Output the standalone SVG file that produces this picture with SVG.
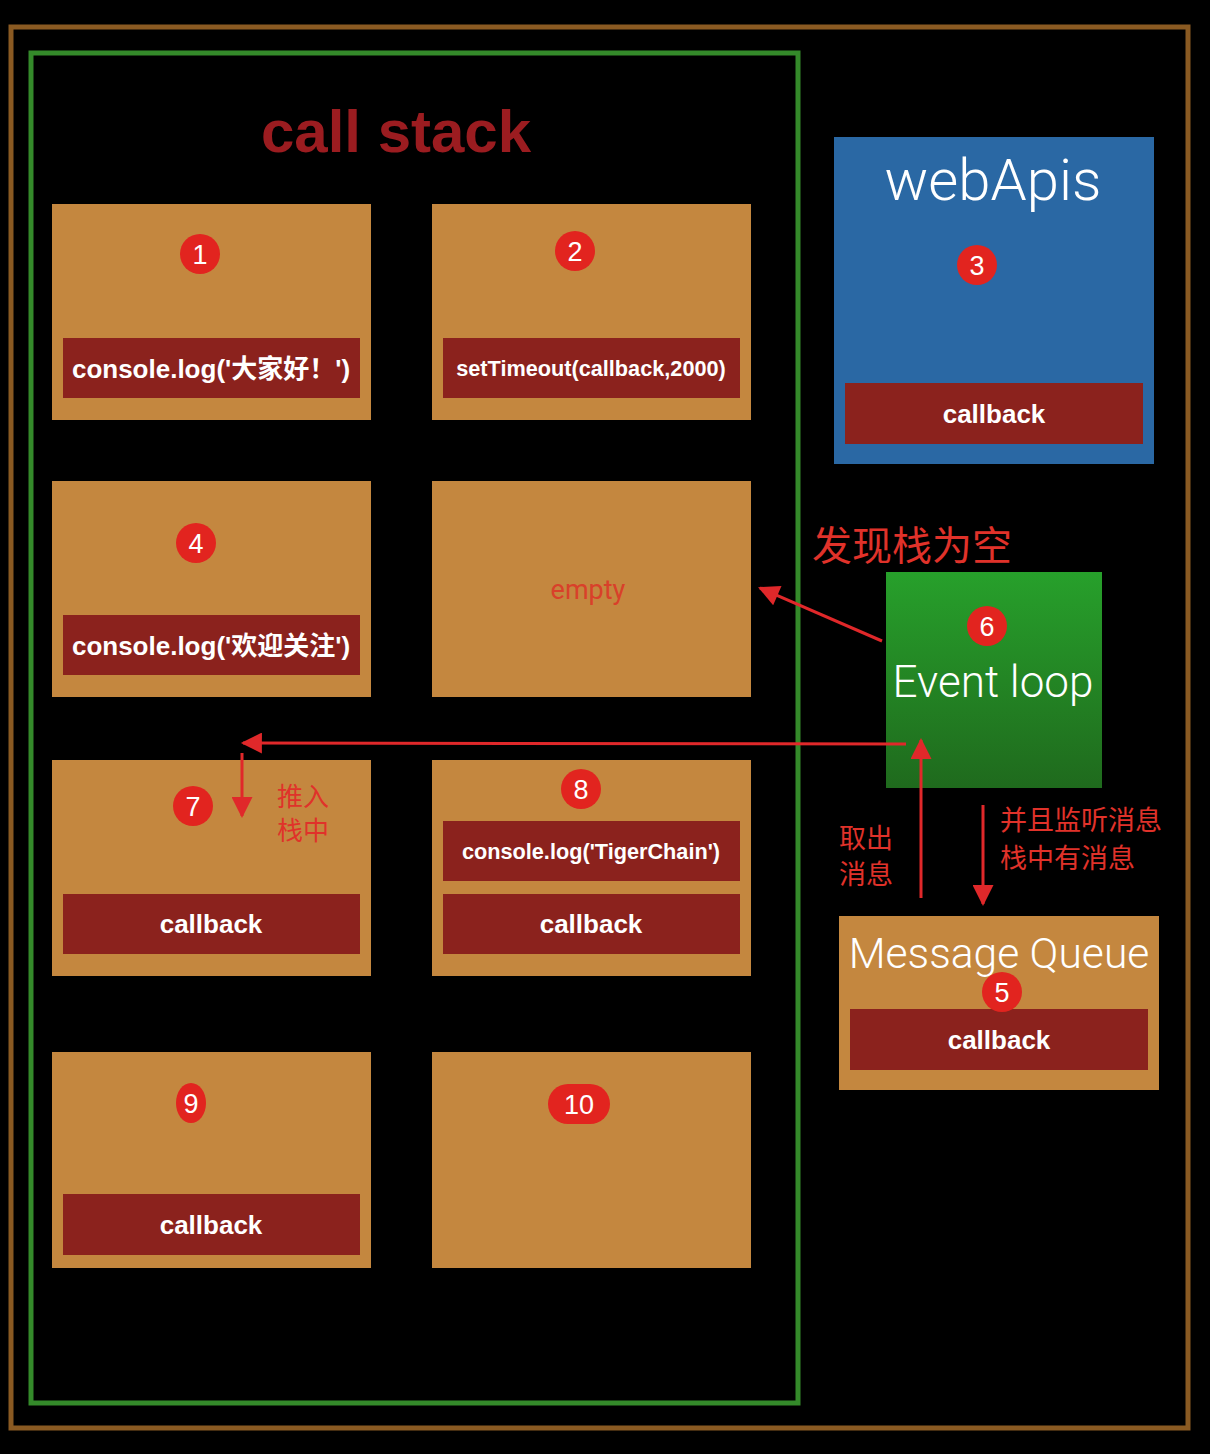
<svg xmlns="http://www.w3.org/2000/svg" width="1210" height="1454" viewBox="0 0 1210 1454">
<defs>
<style>
.box{fill:#c4873f}
.bar{fill:#8b221d}
.bt{font-family:"Liberation Sans",Arial,"Noto Sans CJK SC",sans-serif;font-weight:bold;fill:#fff;text-anchor:middle}
.badge{fill:#e2241f}
.bn{font-family:"Liberation Sans",Arial,sans-serif;font-size:27px;fill:#fff;text-anchor:middle}
.thin{font-family:Roboto,"Liberation Sans",sans-serif;font-weight:300;fill:#fff;text-anchor:middle}
.note{font-family:"Noto Sans CJK SC","Liberation Sans",sans-serif;fill:#e0322a}
.arr{stroke:#e0282a;stroke-width:3;fill:none}
</style>
<marker id="ah" viewBox="0 0 10 10" refX="9" refY="5" markerWidth="8" markerHeight="7" markerUnits="strokeWidth" orient="auto">
<path d="M0,0 L10,5 L0,10 z" fill="#e0282a"/>
</marker>
<linearGradient id="eg" x1="0" y1="0" x2="0" y2="1">
<stop offset="0" stop-color="#27a02b"/>
<stop offset="1" stop-color="#1f6a1d"/>
</linearGradient>
</defs>
<rect width="1210" height="1454" fill="#000"/>
<rect x="11" y="27" width="1177" height="1401" fill="none" stroke="#8a5a22" stroke-width="5"/>
<rect x="31" y="53" width="767" height="1350" fill="none" stroke="#348a2a" stroke-width="5"/>
<text x="396" y="152" font-family="Liberation Sans,Arial,sans-serif" font-weight="bold" font-size="60" fill="#9b1c20" text-anchor="middle">call stack</text>

<g id="node1"><rect class="box" x="52" y="204" width="319" height="216"/><circle class="badge" cx="200" cy="254" r="20"/><text class="bn" x="200" y="264">1</text><rect class="bar" x="63" y="338" width="297" height="60"/><text class="bt" x="211" y="378" font-size="26">console.log('大家好！')</text></g>
<g id="node2"><rect class="box" x="432" y="204" width="319" height="216"/><circle class="badge" cx="575" cy="251" r="20"/><text class="bn" x="575" y="261">2</text><rect class="bar" x="443" y="338" width="297" height="60"/><text class="bt" x="591" y="376" font-size="21.7">setTimeout(callback,2000)</text></g>
<g id="node3"><rect x="834" y="137" width="320" height="327" fill="#2a68a4"/><text class="thin" x="993" y="200" font-size="58">webApis</text><circle class="badge" cx="977" cy="265" r="20"/><text class="bn" x="977" y="275">3</text><rect class="bar" x="845" y="383" width="298" height="61"/><text class="bt" x="994" y="423" font-size="26">callback</text></g>
<g id="node4"><rect class="box" x="52" y="481" width="319" height="216"/><circle class="badge" cx="196" cy="543" r="20"/><text class="bn" x="196" y="553">4</text><rect class="bar" x="63" y="615" width="297" height="60"/><text class="bt" x="211" y="655" font-size="26">console.log('欢迎关注')</text></g>
<g id="node-empty"><rect class="box" x="432" y="481" width="319" height="216"/><text x="588" y="599" font-family="Roboto,Liberation Sans,sans-serif" font-size="27" fill="#d9402a" text-anchor="middle">empty</text></g>
<g id="node6"><rect x="886" y="572" width="216" height="216" fill="url(#eg)"/><circle class="badge" cx="987" cy="626" r="20"/><text class="bn" x="987" y="636">6</text><text class="thin" x="993" y="697" font-size="44">Event loop</text></g>
<g id="node7"><rect class="box" x="52" y="760" width="319" height="216"/><circle class="badge" cx="193" cy="806" r="20"/><text class="bn" x="193" y="816">7</text><rect class="bar" x="63" y="894" width="297" height="60"/><text class="bt" x="211" y="933" font-size="26">callback</text></g>
<g id="node8"><rect class="box" x="432" y="760" width="319" height="216"/><circle class="badge" cx="581" cy="789" r="20"/><text class="bn" x="581" y="799">8</text><rect class="bar" x="443" y="821" width="297" height="60"/><text class="bt" x="591" y="859" font-size="21.7">console.log('TigerChain')</text><rect class="bar" x="443" y="894" width="297" height="60"/><text class="bt" x="591" y="933" font-size="26">callback</text></g>
<g id="node5"><rect class="box" x="839" y="916" width="320" height="174"/><text class="thin" x="999" y="968" font-size="42.6">Message Queue</text><rect class="bar" x="850" y="1009" width="298" height="61"/><circle class="badge" cx="1002" cy="992" r="20"/><text class="bn" x="1002" y="1002">5</text><text class="bt" x="999" y="1049" font-size="26">callback</text></g>
<g id="node9"><rect class="box" x="52" y="1052" width="319" height="216"/><ellipse class="badge" cx="191" cy="1103" rx="15" ry="20"/><text class="bn" x="191" y="1113">9</text><rect class="bar" x="63" y="1194" width="297" height="61"/><text class="bt" x="211" y="1234" font-size="26">callback</text></g>
<g id="node10"><rect class="box" x="432" y="1052" width="319" height="216"/><rect class="badge" x="548" y="1084" width="62" height="40" rx="20"/><text class="bn" x="579" y="1114">10</text></g>

<g id="connectors">
<line class="arr" x1="882" y1="641" x2="760" y2="588" marker-end="url(#ah)"/>
<line class="arr" x1="906" y1="744" x2="243" y2="743" marker-end="url(#ah)"/>
<line class="arr" x1="242" y1="753" x2="242" y2="816" marker-end="url(#ah)"/>
<line class="arr" x1="921" y1="898" x2="921" y2="740" marker-end="url(#ah)"/>
<line class="arr" x1="983" y1="805" x2="983" y2="904" marker-end="url(#ah)"/>
</g>
<g id="labels">
<text class="note" x="812" y="560" font-size="40">发现栈为空</text>
<text class="note" x="277" y="806" font-size="26">推入</text>
<text class="note" x="277" y="840" font-size="26">栈中</text>
<text class="note" x="839" y="848" font-size="27">取出</text>
<text class="note" x="839" y="884" font-size="27">消息</text>
<text class="note" x="1000" y="830" font-size="27">并且监听消息</text>
<text class="note" x="1000" y="868" font-size="27">栈中有消息</text>
</g>
</svg>
